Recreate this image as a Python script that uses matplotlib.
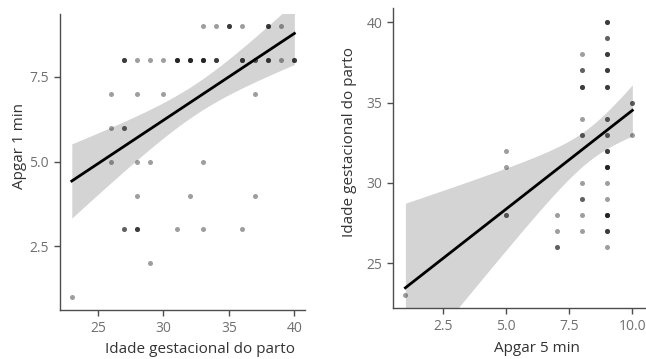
import numpy as np
import matplotlib.pyplot as plt

plt.rcParams['font.family'] = ['Open Sans', 'DejaVu Sans']

# Left panel: gestational age (x) vs Apgar 1 min (y), n = overlapping obs
idade_l = [33, 34, 35, 36, 38, 39,
           27, 28, 29, 30, 31, 32, 33, 34, 36, 37, 38, 39, 40,
           26, 28, 30, 37,
           26, 27,
           26, 28, 29, 33,
           28, 32, 37,
           27, 28, 31, 33, 36,
           29,
           23]
apgar1 = [9, 9, 9, 9, 9, 9,
          8, 8, 8, 8, 8, 8, 8, 8, 8, 8, 8, 8, 8,
          7, 7, 7, 7,
          6, 6,
          5, 5, 5, 5,
          4, 4, 4,
          3, 3, 3, 3, 3,
          2,
          1]
n_l = [1, 1, 3, 1, 3, 1,
       3, 1, 1, 1, 4, 4, 4, 3, 3, 2, 3, 1, 3,
       1, 1, 1, 1,
       1, 2,
       1, 1, 1, 1,
       1, 1, 1,
       2, 3, 1, 1, 1,
       1,
       1]

# Right panel: Apgar 5 min (x) vs gestational age (y)
apgar5 = [1,
          5, 5, 5,
          7, 7, 7,
          8, 8, 8, 8, 8, 8, 8, 8, 8,
          9, 9, 9, 9, 9, 9, 9, 9, 9, 9, 9, 9, 9, 9,
          10, 10]
idade_r = [23,
           32, 31, 28,
           28, 27, 26,
           38, 37, 36, 34, 33, 30, 29, 28, 27,
           40, 39, 38, 37, 36, 34, 33, 32, 31, 30, 29, 28, 27, 26,
           35, 33]
n_r = [1,
       1, 1, 2,
       1, 1, 2,
       1, 2, 3, 1, 2, 1, 2, 1, 1,
       3, 2, 3, 3, 3, 2, 2, 3, 4, 1, 1, 4, 3, 1,
       2, 1]


def lm_band(x, y):
    n = len(x)
    b, a = np.polyfit(x, y, 1)
    xs = np.linspace(x.min(), x.max(), 100)
    fit = a + b * xs
    resid = y - (a + b * x)
    s = np.sqrt(np.sum(resid ** 2) / (n - 2))
    sxx = np.sum((x - x.mean()) ** 2)
    se = s * np.sqrt(1 / n + (xs - x.mean()) ** 2 / sxx)
    z = 1.96
    t = z + (z ** 3 + z) / (4 * (n - 2))
    return xs, fit, fit - t * se, fit + t * se


def style(ax):
    for side in ['top', 'right']:
        ax.spines[side].set_visible(False)
    for side in ['left', 'bottom']:
        ax.spines[side].set_color('#4d4d4d')
        ax.spines[side].set_linewidth(1.0)
    ax.tick_params(colors='#4d4d4d', labelcolor='#707070', labelsize=10,
                   length=4, width=1.0, pad=4)


fig = plt.figure(figsize=(6.46, 3.59), dpi=100)
ax1 = fig.add_axes([0.0929, 0.1365, 0.379, 0.8245])
ax2 = fig.add_axes([0.6088, 0.1412, 0.3896, 0.8357])

panels = [
    (ax1, idade_l, apgar1, n_l, 'Idade gestacional do parto', 'Apgar 1 min',
     (22.1, 40.8), (0.62, 9.36), [25, 30, 35, 40], [2.5, 5.0, 7.5], -0.135),
    (ax2, apgar5, idade_r, n_r, 'Apgar 5 min', 'Idade gestacional do parto',
     (0.52, 10.5), (22.2, 40.87), [2.5, 5.0, 7.5, 10.0], [25, 30, 35, 40], -0.143),
]

for ax, xv, yv, nv, xlab, ylab, xlim, ylim, xt, yt, ylx in panels:
    x = np.repeat(np.array(xv, float), nv)
    y = np.repeat(np.array(yv, float), nv)
    xs, fit, lo, hi = lm_band(x, y)
    ax.fill_between(xs, lo, hi, color='#d4d4d4', lw=0, zorder=1)
    ax.scatter(x, y, s=13, color='black', alpha=0.38, lw=0, zorder=2)
    ax.plot(xs, fit, color='black', lw=2, zorder=3)
    ax.set_xlim(*xlim)
    ax.set_ylim(*ylim)
    ax.set_xticks(xt)
    ax.set_yticks(yt)
    if isinstance(xt[0], float):
        ax.set_xticklabels([f'{v:.1f}' for v in xt])
    if isinstance(yt[0], float):
        ax.set_yticklabels([f'{v:.1f}' for v in yt])
    ax.set_xlabel(xlab, fontsize=11, color='#333333')
    ax.set_ylabel(ylab, fontsize=11, color='#333333')
    ax.xaxis.set_label_coords(0.57, -0.108)
    ax.yaxis.set_label_coords(ylx, 0.555)
    style(ax)

fig.savefig('out.png', dpi=100)
